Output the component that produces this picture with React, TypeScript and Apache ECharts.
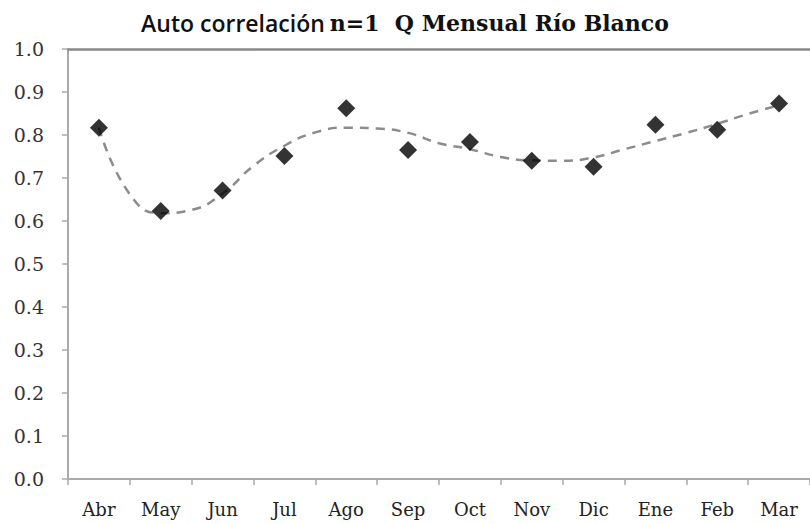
import React, { useEffect, useRef } from "react";
import * as echarts from "echarts";

const categories = ["Abr", "May", "Jun", "Jul", "Ago", "Sep", "Oct", "Nov", "Dic", "Ene", "Feb", "Mar"];
const autocorr = [0.817, 0.623, 0.671, 0.751, 0.862, 0.765, 0.784, 0.74, 0.726, 0.824, 0.812, 0.873];
// trend line at half-category steps
const trendPositions = [0, 0.5, 1, 1.5, 2, 2.5, 3, 3.5, 4, 4.5, 5, 5.5, 6, 6.5, 7, 7.5, 8, 8.5, 9, 9.5, 10, 10.5, 11];
const trendValues = [0.817, 0.662, 0.618, 0.626, 0.664, 0.728, 0.775, 0.806, 0.817, 0.815, 0.805, 0.781, 0.767, 0.749, 0.741, 0.74, 0.748, 0.767, 0.786, 0.805, 0.826, 0.849, 0.869];
const titleSans = "Auto correlación";
const titleSerif = "n=1  Q Mensual Río Blanco";

export default function App() {
  const ref = useRef<HTMLDivElement>(null);
  useEffect(() => {
    if (!ref.current) return;
    const chart = echarts.init(ref.current, undefined, { renderer: "svg" });
    const serif = "'DejaVu Serif', serif";
    chart.setOption({
      animation: false,
      backgroundColor: "#ffffff",
      title: {
        text: `{a|${titleSans}} {b|${titleSerif}}`,
        left: "center",
        top: 6,
        textStyle: {
          rich: {
            a: { fontFamily: "'Open Sans', sans-serif", fontWeight: 600, fontSize: 23, color: "#111" },
            b: { fontFamily: serif, fontWeight: "bold", fontSize: 22, color: "#111" },
          },
        },
      },
      grid: { left: 68, top: 49, width: 752, height: 430, containLabel: false },
      xAxis: [
        {
          type: "category",
          data: categories,
          boundaryGap: true,
          axisLine: { onZero: false, lineStyle: { color: "#aaaaaa", width: 2 } },
          axisTick: { show: true, length: 6, inside: false, lineStyle: { color: "#aaaaaa", width: 1.5 } },
          axisLabel: { fontFamily: serif, fontSize: 18, color: "#222", margin: 21 },
          splitLine: { show: false },
        },
        {
          type: "value",
          min: -0.5,
          max: 11.5,
          position: "top",
          axisLine: { show: true, onZero: false, lineStyle: { color: "#888888", width: 2.5 } },
          axisTick: { show: false },
          axisLabel: { show: false },
          splitLine: { show: false },
        },
      ],
      yAxis: {
        type: "value",
        min: 0,
        max: 1,
        interval: 0.1,
        axisLine: { show: true, onZero: false, lineStyle: { color: "#aaaaaa", width: 2 } },
        axisTick: { show: true, length: 6, lineStyle: { color: "#aaaaaa", width: 1.5 } },
        axisLabel: {
          fontFamily: serif,
          fontSize: 19,
          color: "#333",
          margin: 24,
          formatter: (v: number) => v.toFixed(1),
        },
        splitLine: { show: false },
      },
      series: [
        {
          type: "line",
          xAxisIndex: 1,
          data: trendPositions.map((x, i) => [x, trendValues[i]]),
          smooth: 0.5,
          showSymbol: false,
          lineStyle: { color: "#8c8c8c", width: 2.5, type: [9, 7] },
          z: 2,
        },
        {
          type: "scatter",
          xAxisIndex: 0,
          data: autocorr,
          symbol: "diamond",
          symbolSize: 18,
          itemStyle: { color: "#000000" },
          z: 3,
        },
      ],
    });
    return () => chart.dispose();
  }, []);
  return <div ref={ref} style={{ width: 810, height: 524, position: "absolute", left: 0, top: 0 }} />;
}
